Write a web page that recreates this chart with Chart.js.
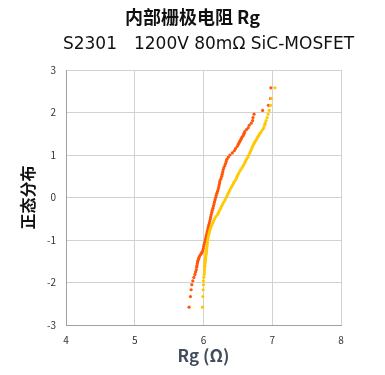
<!DOCTYPE html>
<html>
  <head>
    <meta charset="UTF-8" />
    <title>内部栅极电阻 Rg</title>
    <style>
      html, body { margin: 0; padding: 0; background: #fff; }
      #wrap { position: relative; width: 385px; height: 375px; }
      #chart { position: absolute; left: 0; top: 0; }
      .head {
        position: absolute; left: 0; width: 385px; text-align: center;
        font-family: "Noto Sans CJK SC", sans-serif; color: #111; white-space: pre;
      }
      #title { top: 3px; font-size: 18px; font-weight: bold; }
      #subtitle { top: 29px; left: 16px; font-size: 17px; font-family: "DejaVu Sans", "Noto Sans CJK SC", sans-serif; }
    </style>
  </head>
  <body>
    <div id="wrap">
      <canvas id="chart" width="385" height="375"></canvas>
      <div id="title" class="head">内部栅极电阻 Rg</div>
      <div id="subtitle" class="head">S2301　1200V 80mΩ SiC-MOSFET</div>
    </div>
    <script src="https://cdn.jsdelivr.net/npm/chart.js"></script>
    <script>
      // normal quantile (y) positions, shared by both lots
      const zScores = [
        -2.58, -2.33, -2.17, -2.05, -1.96, -1.88, -1.81, -1.75, -1.70, -1.64,
        -1.60, -1.55, -1.51, -1.48, -1.44, -1.41, -1.37, -1.34, -1.31, -1.28,
        -1.25, -1.20, -1.15, -1.10, -1.05, -1.00, -0.95, -0.90, -0.85, -0.80,
        -0.75, -0.70, -0.65, -0.60, -0.55, -0.50, -0.45, -0.40, -0.35, -0.30,
        -0.25, -0.20, -0.15, -0.10, -0.05, 0.00, 0.05, 0.10, 0.15, 0.20,
        0.25, 0.30, 0.35, 0.40, 0.45, 0.50, 0.55, 0.60, 0.65, 0.70,
        0.75, 0.80, 0.85, 0.90, 0.95, 1.00, 1.05, 1.10, 1.15, 1.20,
        1.25, 1.28, 1.31, 1.34, 1.37, 1.41, 1.44, 1.48, 1.51, 1.55,
        1.60, 1.64, 1.70, 1.75, 1.81, 1.88, 1.96, 2.05, 2.17, 2.33, 2.58
      ];
      // Rg values (ohm), orange lot
      const rgOrange = [
        5.79, 5.81, 5.82, 5.83, 5.845, 5.86, 5.875, 5.885, 5.895, 5.90,
        5.905, 5.91, 5.915, 5.92, 5.93, 5.935, 5.945, 5.96, 5.97, 5.98,
        5.99, 5.997, 6.003, 6.01, 6.018, 6.026, 6.033, 6.04, 6.047, 6.055,
        6.063, 6.07, 6.077, 6.084, 6.092, 6.10, 6.105, 6.113, 6.12, 6.128,
        6.137, 6.145, 6.153, 6.16, 6.168, 6.177, 6.185, 6.195, 6.205, 6.215,
        6.222, 6.228, 6.234, 6.24, 6.255, 6.265, 6.272, 6.28, 6.285, 6.295,
        6.31, 6.32, 6.33, 6.34, 6.36, 6.385, 6.42, 6.448, 6.465, 6.49,
        6.505, 6.515, 6.525, 6.535, 6.545, 6.555, 6.57, 6.585, 6.59, 6.60,
        6.625, 6.65, 6.665, 6.695, 6.715, 6.72, 6.735, 6.86, 6.945, 6.975, 6.98
      ];
      // Rg values (ohm), yellow lot
      const rgYellow = [
        5.985, 5.99, 5.995, 6.0, 6.0, 6.005, 6.01, 6.013, 6.015, 6.018,
        6.02, 6.022, 6.025, 6.027, 6.03, 6.032, 6.034, 6.036, 6.038, 6.04,
        6.043, 6.047, 6.051, 6.054, 6.057, 6.062, 6.066, 6.072, 6.08, 6.088,
        6.097, 6.107, 6.12, 6.135, 6.148, 6.162, 6.18, 6.205, 6.218, 6.235,
        6.25, 6.265, 6.28, 6.298, 6.315, 6.33, 6.345, 6.36, 6.375, 6.39,
        6.408, 6.425, 6.44, 6.46, 6.478, 6.49, 6.505, 6.52, 6.54, 6.56,
        6.578, 6.595, 6.61, 6.625, 6.645, 6.66, 6.675, 6.687, 6.70, 6.712,
        6.728, 6.738, 6.748, 6.76, 6.772, 6.785, 6.797, 6.81, 6.822, 6.84,
        6.86, 6.875, 6.888, 6.898, 6.91, 6.925, 6.94, 6.955, 6.975, 6.99, 7.04
      ];
      const xTicks = [4, 5, 6, 7, 8];
      const yTicks = [-3, -2, -1, 0, 1, 2, 3];

      const toPoints = (xs) => xs.map((x, i) => ({ x: x, y: zScores[i] }));
      const tickFont = { family: 'Noto Sans CJK JP', size: 10 };

      const ctx = document.getElementById('chart').getContext('2d');
      new Chart(ctx, {
        type: 'scatter',
        data: {
          datasets: [
            {
              label: 'yellow',
              data: toPoints(rgYellow),
              backgroundColor: '#ffc800',
              borderWidth: 0,
              pointRadius: 1.6,
            },
            {
              label: 'orange',
              data: toPoints(rgOrange),
              backgroundColor: '#ff560a',
              borderWidth: 0,
              pointRadius: 1.6,
            },
          ],
        },
        options: {
          responsive: false,
          animation: false,
          layout: { padding: { top: 70, right: 44, left: 0, bottom: 0 } },
          scales: {
            x: {
              type: 'linear',
              min: xTicks[0],
              max: xTicks[xTicks.length - 1],
              afterBuildTicks: (s) => { s.ticks = xTicks.map((v) => ({ value: v })); },
              afterFit: (s) => { s.height = 50; },
              grid: { color: '#d2d2d2', drawTicks: false },
              border: { color: '#a0a0a0' },
              ticks: { font: tickFont, color: '#333', padding: 9 },
              title: {
                display: true,
                text: 'Rg (Ω)',
                color: '#434e5c',
                font: { family: 'Noto Sans CJK JP', size: 17, weight: 'bold' },
                padding: { top: 0, bottom: 9 },
              },
            },
            y: {
              type: 'linear',
              min: yTicks[0],
              max: yTicks[yTicks.length - 1],
              afterBuildTicks: (s) => { s.ticks = yTicks.map((v) => ({ value: v })); },
              afterFit: (s) => { s.width = 66; },
              grid: { color: '#d2d2d2', drawTicks: false },
              border: { color: '#a0a0a0' },
              ticks: { font: tickFont, color: '#333', padding: 10 },
              title: {
                display: true,
                text: '正态分布',
                color: '#111',
                font: { family: 'Noto Sans CJK SC', size: 16, weight: 'bold' },
                padding: { top: 18, bottom: 0 },
              },
            },
          },
          plugins: {
            legend: { display: false },
            tooltip: { enabled: false },
          },
        },
      });
    </script>
  </body>
</html>
